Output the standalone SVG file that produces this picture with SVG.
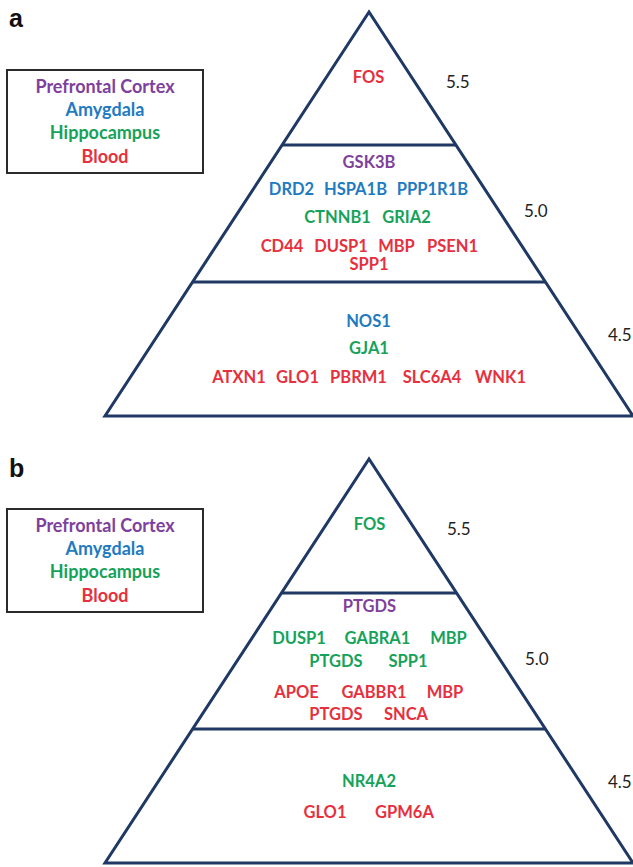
<svg xmlns="http://www.w3.org/2000/svg" width="633" height="867" viewBox="0 0 633 867">
<style>
.bg{fill:#ffffff}
.tri{fill:none;stroke:#1F3864;stroke-width:3;stroke-linejoin:miter}
.div{stroke:#1F3864;stroke-width:3}
.box{fill:none;stroke:#2b2b2b;stroke-width:2}
.g{font-family:Lato,"Open Sans","Liberation Sans",sans-serif;font-weight:bold;font-size:16.5px;text-anchor:middle}
.lg{font-family:Lato,"Open Sans","Liberation Sans",sans-serif;font-weight:bold;font-size:18px;text-anchor:middle}
.num{font-family:Lato,"Open Sans","Liberation Sans",sans-serif;font-size:17px;fill:#222222}
.pl{font-family:"Liberation Sans",Arial,sans-serif;font-weight:bold;font-size:25px;fill:#111111}
.pfc{fill:#7E3F9D}
.amy{fill:#1F7BC1}
.hip{fill:#16A25A}
.bld{fill:#E6303E}
</style>
<rect class="bg" x="0" y="0" width="633" height="867"/>

<g id="panel-a">
  <text class="pl" x="9" y="27">a</text>
  <g id="legend-a">
    <rect class="box" x="7" y="70" width="196" height="103"/>
    <text class="lg pfc" x="105" y="93">Prefrontal Cortex</text>
    <text class="lg amy" x="105" y="116">Amygdala</text>
    <text class="lg hip" x="105" y="139">Hippocampus</text>
    <text class="lg bld" x="105" y="163">Blood</text>
  </g>
  <g id="pyramid-a">
    <polygon class="tri" points="369,12 105,416 633,416"/>
    <line class="div" x1="282" y1="145" x2="456" y2="145"/>
    <line class="div" x1="192.6" y1="282" x2="545.4" y2="282"/>
  </g>
  <g id="a-tier-top">
    <text class="g bld" x="368.5" y="83">FOS</text>
    <text class="num" x="446" y="88">5.5</text>
  </g>
  <g id="a-tier-middle">
    <text class="g pfc" x="369" y="168">GSK3B</text>
    <text class="g amy" x="291.5" y="195">DRD2</text>
    <text class="g amy" x="355.5" y="195">HSPA1B</text>
    <text class="g amy" x="432.5" y="195">PPP1R1B</text>
    <text class="g hip" x="337.5" y="223">CTNNB1</text>
    <text class="g hip" x="406.5" y="223">GRIA2</text>
    <text class="g bld" x="282" y="252">CD44</text>
    <text class="g bld" x="341" y="252">DUSP1</text>
    <text class="g bld" x="396.5" y="252">MBP</text>
    <text class="g bld" x="452.5" y="252">PSEN1</text>
    <text class="g bld" x="369" y="270">SPP1</text>
    <text class="num" x="524" y="217">5.0</text>
  </g>
  <g id="a-tier-bottom">
    <text class="g amy" x="368.5" y="327">NOS1</text>
    <text class="g hip" x="369" y="354">GJA1</text>
    <text class="g bld" x="239" y="383">ATXN1</text>
    <text class="g bld" x="297.5" y="383">GLO1</text>
    <text class="g bld" x="358.5" y="383">PBRM1</text>
    <text class="g bld" x="432" y="383">SLC6A4</text>
    <text class="g bld" x="500.5" y="383">WNK1</text>
    <text class="num" x="608" y="341">4.5</text>
  </g>
</g>

<g id="panel-b">
  <text class="pl" x="9" y="477">b</text>
  <g id="legend-b">
    <rect class="box" x="7" y="509" width="196" height="103"/>
    <text class="lg pfc" x="105" y="532">Prefrontal Cortex</text>
    <text class="lg amy" x="105" y="555">Amygdala</text>
    <text class="lg hip" x="105" y="578">Hippocampus</text>
    <text class="lg bld" x="105" y="602">Blood</text>
  </g>
  <g id="pyramid-b">
    <polygon class="tri" points="369,459 105,863 633,863"/>
    <line class="div" x1="282" y1="593" x2="456" y2="593"/>
    <line class="div" x1="192.6" y1="729" x2="545.4" y2="729"/>
  </g>
  <g id="b-tier-top">
    <text class="g hip" x="369.5" y="530">FOS</text>
    <text class="num" x="447" y="535">5.5</text>
  </g>
  <g id="b-tier-middle">
    <text class="g pfc" x="369.5" y="612">PTGDS</text>
    <text class="g hip" x="299" y="644">DUSP1</text>
    <text class="g hip" x="377.5" y="644">GABRA1</text>
    <text class="g hip" x="448.5" y="644">MBP</text>
    <text class="g hip" x="336" y="667">PTGDS</text>
    <text class="g hip" x="408" y="667">SPP1</text>
    <text class="g bld" x="296.5" y="698">APOE</text>
    <text class="g bld" x="374" y="698">GABBR1</text>
    <text class="g bld" x="445" y="698">MBP</text>
    <text class="g bld" x="336" y="720">PTGDS</text>
    <text class="g bld" x="406" y="720">SNCA</text>
    <text class="num" x="525" y="665">5.0</text>
  </g>
  <g id="b-tier-bottom">
    <text class="g hip" x="369" y="787">NR4A2</text>
    <text class="g bld" x="325" y="818">GLO1</text>
    <text class="g bld" x="404.5" y="818">GPM6A</text>
    <text class="num" x="608" y="788">4.5</text>
  </g>
</g>
</svg>
